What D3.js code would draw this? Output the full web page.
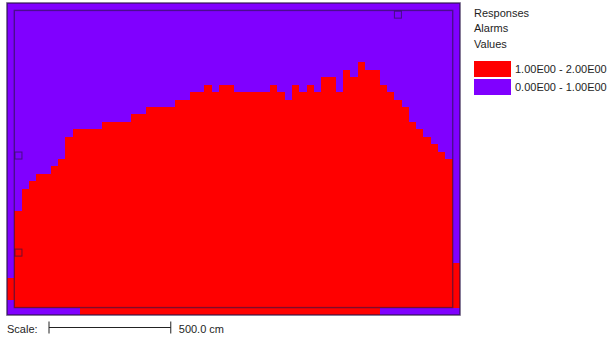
<!DOCTYPE html>
<html>
<head>
<meta charset="utf-8">
<script src="https://cdn.jsdelivr.net/npm/d3@7"></script>
<style>
  html, body { margin: 0; padding: 0; background: #fff; }
  svg { display: block; }
  text { font-family: "Liberation Sans", Arial, sans-serif; font-size: 11px; fill: #1e1e1e; }
</style>
</head>
<body>
<svg id="chart" width="607" height="339"></svg>
<script>
// Grid: 62 columns x 42 rows of 30 cm cells; the room occupies the inner 60 x 40 cells.
const cellCm = 30;
const gridCols = 62;
const gridRows = 42;

// Per column: upper and lower edge (cm above grid bottom) of the cells valued 1.00E00 - 2.00E00.
const redUpper = [
  150, 420, 510, 540, 570, 570, 600, 630, 720, 750,
  750, 750, 750, 780, 780, 780, 780, 810, 810, 840,
  840, 840, 840, 870, 870, 900, 900, 930, 900, 930,
  930, 900, 900, 900, 900, 900, 930, 900, 870, 930,
  900, 930, 900, 960, 960, 900, 990, 960, 1020, 990,
  990, 930, 900, 870, 840, 780, 750, 720, 690, 660,
  630, 210
];
const redLower = [
  60, 30, 30, 30, 30, 30, 30, 30, 30, 30,
  0, 0, 0, 0, 0, 0, 0, 0, 0, 0,
  0, 0, 0, 0, 0, 0, 0, 0, 0, 0,
  0, 0, 0, 0, 0, 0, 0, 0, 0, 0,
  0, 0, 0, 0, 0, 0, 0, 0, 0, 0,
  0, 30, 30, 30, 30, 30, 30, 30, 30, 30,
  30, 30
];

// Sensor locations (cm)
const sensorX = [47, 47, 1605];
const sensorY = [644, 252, 1213];

// Legend
const legendTitles = ["Responses", "Alarms", "Values"];
const legendRanges = ["1.00E00 - 2.00E00", "0.00E00 - 1.00E00"];
const legendColors = ["#ff0000", "#8000ff"];

const scaleLengthCm = 500;
const scaleLabel = "500.0 cm";

const svg = d3.select("#chart");

const x = d3.scaleLinear().domain([0, gridCols * cellCm]).range([7, 460]);
const y = d3.scaleLinear().domain([0, gridRows * cellCm]).range([315, 3]);

// Background: cells valued 0.00E00 - 1.00E00
svg.append("rect")
  .attr("x", x(0)).attr("y", y(gridRows * cellCm))
  .attr("width", x(gridCols * cellCm) - x(0))
  .attr("height", y(0) - y(gridRows * cellCm))
  .attr("fill", legendColors[1]);

// Cells valued 1.00E00 - 2.00E00, one step per column
const cols = redUpper.map((u, i) => ({ c: i, u, l: redLower[i] }));
cols.push({ c: gridCols, u: redUpper[gridCols - 1], l: redLower[gridCols - 1] });

const area = d3.area()
  .curve(d3.curveStepAfter)
  .x(d => x(d.c * cellCm))
  .y0(d => y(d.l))
  .y1(d => y(d.u));

svg.append("path")
  .datum(cols)
  .attr("d", area)
  .attr("fill", legendColors[0])
  .attr("shape-rendering", "crispEdges");

// Room outline
svg.append("rect")
  .attr("x", x(cellCm)).attr("y", y((gridRows - 1) * cellCm))
  .attr("width", x((gridCols - 1) * cellCm) - x(cellCm))
  .attr("height", y(cellCm) - y((gridRows - 1) * cellCm))
  .attr("fill", "none")
  .attr("stroke", "rgba(40,20,70,0.6)")
  .attr("stroke-width", 1.4);

// Grid outline
svg.append("rect")
  .attr("x", x(0)).attr("y", y(gridRows * cellCm))
  .attr("width", x(gridCols * cellCm) - x(0))
  .attr("height", y(0) - y(gridRows * cellCm))
  .attr("fill", "none")
  .attr("stroke", "rgba(40,20,70,0.7)")
  .attr("stroke-width", 1.6);

// Sensors
const sz = 7;
svg.selectAll("rect.sensor")
  .data(sensorX.map((sx, i) => [sx, sensorY[i]]))
  .join("rect")
  .attr("class", "sensor")
  .attr("x", d => x(d[0]) - sz / 2)
  .attr("y", d => y(d[1]) - sz / 2)
  .attr("width", sz).attr("height", sz)
  .attr("fill", "none")
  .attr("stroke", "rgba(40,20,70,0.65)")
  .attr("stroke-width", 1);

// Legend
const lg = svg.append("g").attr("transform", "translate(474,0)");
lg.selectAll("text.title")
  .data(legendTitles)
  .join("text")
  .attr("class", "title")
  .attr("x", 0)
  .attr("y", (d, i) => 16.5 + i * 15.5)
  .text(d => d);

lg.selectAll("rect.swatch")
  .data(legendColors)
  .join("rect")
  .attr("class", "swatch")
  .attr("x", 0)
  .attr("y", (d, i) => 61 + i * 18)
  .attr("width", 37).attr("height", 16)
  .attr("fill", d => d);

lg.selectAll("text.range")
  .data(legendRanges)
  .join("text")
  .attr("class", "range")
  .attr("x", 41)
  .attr("y", (d, i) => 73 + i * 18)
  .text(d => d);

// Scale bar
const sb = svg.append("g");
const bx0 = 49;
const bx1 = bx0 + (x(scaleLengthCm) - x(0));
const by = 327.5;
sb.append("text").attr("x", 7).attr("y", 333).text("Scale:");
sb.append("line").attr("x1", bx0).attr("x2", bx1).attr("y1", by).attr("y2", by)
  .attr("stroke", "#222").attr("stroke-width", 1);
sb.selectAll("line.tick").data([bx0, bx1]).join("line")
  .attr("class", "tick")
  .attr("x1", d => d).attr("x2", d => d)
  .attr("y1", 321.5).attr("y2", 333.5)
  .attr("stroke", "#222").attr("stroke-width", 1);
sb.append("text").attr("x", bx1 + 8).attr("y", 333).text(scaleLabel);
</script>
</body>
</html>
